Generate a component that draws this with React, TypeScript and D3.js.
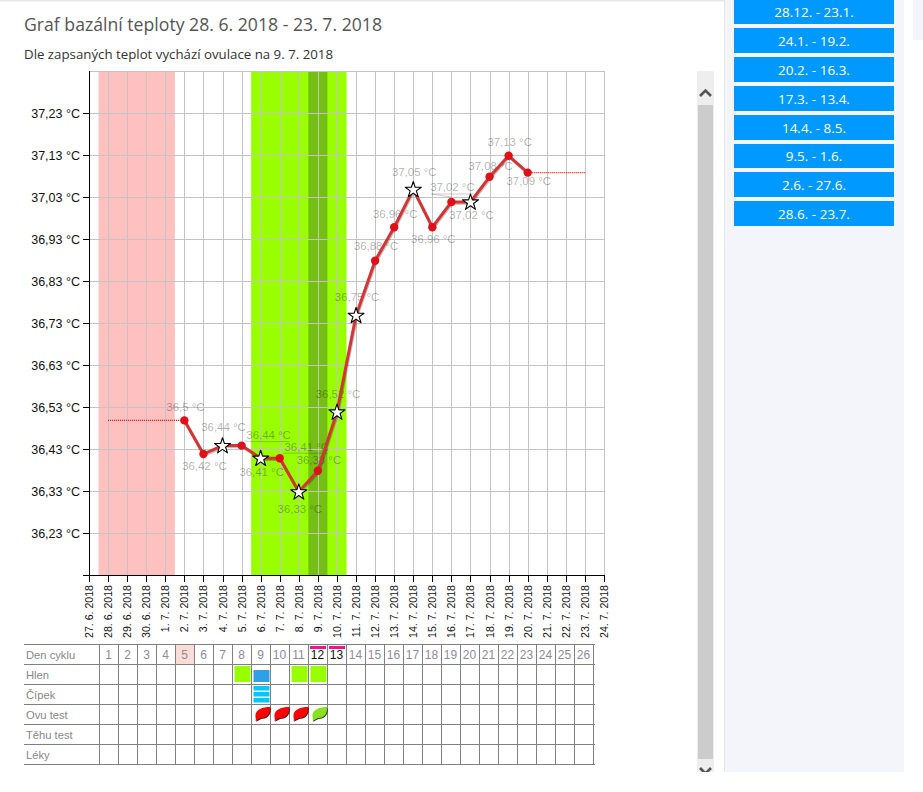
import React from "react";
import * as d3 from "d3";

const dateLabels = ["27. 6. 2018","28. 6. 2018","29. 6. 2018","30. 6. 2018","1. 7. 2018","2. 7. 2018","3. 7. 2018","4. 7. 2018","5. 7. 2018","6. 7. 2018","7. 7. 2018","8. 7. 2018","9. 7. 2018","10. 7. 2018","11. 7. 2018","12. 7. 2018","13. 7. 2018","14. 7. 2018","15. 7. 2018","16. 7. 2018","17. 7. 2018","18. 7. 2018","19. 7. 2018","20. 7. 2018","21. 7. 2018","22. 7. 2018","23. 7. 2018","24. 7. 2018"];
const yTicks = [37.23,37.13,37.03,36.93,36.83,36.73,36.63,36.53,36.43,36.33,36.23];
const measuredDays = [5,6,7,8,9,10,11,12,13,14,15,16,17,18,19,20,21,22,23];
const temps = [36.5,36.42,36.44,36.44,36.41,36.41,36.33,36.38,36.52,36.75,36.88,36.96,37.05,36.96,37.02,37.02,37.08,37.13,37.09];
const tempLabels = ["36,5","36,42","36,44","36,44","36,41","36,41","36,33","36,38","36,52","36,75","36,88","36,96","37,05","36,96","37,02","37,02","37,08","37,13","37,09"];
const starred = [false,false,true,false,true,false,true,false,true,true,false,false,true,false,false,true,false,false,false];
const dottedBefore = [1,5];
const dottedAfter = [23,26];
const periodBand = [1,4];
const fertileBand = [9,13];
const ovulationBand = [12,12];
const rowNames = ["Den cyklu","Hlen","Čípek","Ovu test","Těhu test","Léky"];
const cycleDays = d3.range(1, 27);
const hlenGreen = [8,11,12];
const hlenBlue = [9];
const cipekDays = [9];
const ovuRed = [9,10,11];
const ovuGreen = [12];
const markedDays = [12,13];
const menstrualEndDay = 5;
const periodButtons = ["28.12. - 23.1.","24.1. - 19.2.","20.2. - 16.3.","17.3. - 13.4.","14.4. - 8.5.","9.5. - 1.6.","2.6. - 27.6.","28.6. - 23.7."];

const labelOffsets: [number, number][] = [[1,-13],[1,13],[1,-18],[27,-10],[1,14],[27,-11],[1,18],[1,-10],[1,-17],[1,-18],[1,-14],[1,-13],[1,-17],[1,12],[1,-14],[1,14],[1,-10],[1,-13],[1,9]];
const buttonRows: [number, number][] = [[0,24],[28,53],[57,82],[86,111],[115,140],[144,168],[172,197],[201,226]];

const x = d3.scaleLinear().domain([0, 27]).range([89, 604]);
const y = d3.scaleLinear().domain([36.23, 37.23]).range([533, 113]);
const px = (v: number) => Math.round(v) + 0.5;

const LATIN = "'Liberation Sans', Arial, sans-serif";
const OPEN = "'Open Sans', sans-serif";
const GRID = "#c4c4c4";

const pts: [number, number][] = measuredDays.map((d, i) => [x(d), y(temps[i])]);
const line = d3.line<[number, number]>();
const star = d3.symbol().type(d3.symbolStar).size(80)()!;

const tableLeft = 24, col0 = 99, colW = 19, rowTop = 644, rowH = 20;
const colX = (d: number) => col0 + (d - 1) * colW;
const rowY = (r: number) => rowTop + r * rowH;
const leaf = "M3.5,17C4.5,15 3,13 3.5,10.5C4.5,5.5 10,3 18.5,3C18.5,8.5 16,14 10,14C8,14 6,16 3.5,17Z";

export default function App() {
  return (
    <svg width={923} height={792} style={{ position: "absolute", left: 0, top: 0, background: "#fff" }}>
      {/* page furniture */}
      <rect x={0} y={0} width={724} height={1.5} fill="#e8e8e8" />
      <rect x={724} y={0} width={180} height={772} fill="#f4f5fa" />
      <rect x={724} y={0} width={1} height={772} fill="#e6e6ea" />
      <rect x={913} y={0} width={10} height={40} fill="#f4f5fa" />
      {periodButtons.map((b, i) => (
        <g key={b}>
          <rect x={734} y={buttonRows[i][0]} width={160} height={buttonRows[i][1] - buttonRows[i][0]} fill="#0099ff" />
          <text x={814} y={(buttonRows[i][0] + buttonRows[i][1]) / 2 + 5} textAnchor="middle" fontFamily={OPEN} fontSize={13.5} fill="#fff">{b}</text>
        </g>
      ))}

      <text x={24} y={31} fontFamily={OPEN} fontSize={18.5} fill="#555" textLength={358} lengthAdjust="spacingAndGlyphs">Graf bazální teploty 28. 6. 2018 - 23. 7. 2018</text>
      <text x={24} y={59} fontFamily={OPEN} fontSize={13} fill="#333" textLength={309} lengthAdjust="spacingAndGlyphs">Dle zapsaných teplot vychází ovulace na 9. 7. 2018</text>

      {/* bands */}
      <rect x={x(periodBand[0] - 0.5)} y={71} width={x(periodBand[1] + 0.5) - x(periodBand[0] - 0.5)} height={504} fill="#ffc0c0" />
      <rect x={x(fertileBand[0] - 0.5)} y={71} width={x(fertileBand[1] + 0.5) - x(fertileBand[0] - 0.5)} height={504} fill="#99ff00" />
      <rect x={x(ovulationBand[0] - 0.5)} y={71} width={x(ovulationBand[1] + 0.5) - x(ovulationBand[0] - 0.5)} height={504} fill="#75bf14" />

      {/* grid */}
      {dateLabels.map((_, i) => i > 0 && (
        <line key={i} x1={px(x(i))} x2={px(x(i))} y1={71} y2={575} stroke={GRID} />
      ))}
      {yTicks.map(t => (
        <line key={t} x1={89} x2={604} y1={px(y(t))} y2={px(y(t))} stroke={GRID} />
      ))}
      <line x1={89} x2={604} y1={71.5} y2={71.5} stroke={GRID} />

      {/* axes */}
      <line x1={89.5} x2={89.5} y1={71} y2={576} stroke="#000" />
      <line x1={83} x2={604} y1={575.5} y2={575.5} stroke="#000" />
      {yTicks.map(t => (
        <g key={t}>
          <line x1={83} x2={89} y1={px(y(t))} y2={px(y(t))} stroke="#000" />
          <text x={80} y={y(t) + 4.5} textAnchor="end" fontFamily={LATIN} fontSize={12.5} fill="#111">{String(t).replace(".", ",")} °C</text>
        </g>
      ))}
      {dateLabels.map((d, i) => (
        <g key={d}>
          <line x1={px(x(i))} x2={px(x(i))} y1={575} y2={582} stroke="#000" />
          <text transform={`translate(${x(i) + 4},585) rotate(-90)`} textAnchor="end" fontFamily={LATIN} fontSize={10.6} fill="#111">{d}</text>
        </g>
      ))}

      <g transform="translate(0,0.8)">
        {/* dotted extensions */}
        <path d={line([[x(dottedBefore[0]), y(temps[0])], [x(dottedBefore[1]), y(temps[0])]])!} fill="none" stroke="#f00" strokeWidth={1.4} strokeDasharray="1 1" />
        <path d={line([[x(dottedAfter[0]), y(temps[temps.length - 1])], [x(dottedAfter[1]), y(temps[temps.length - 1])]])!} fill="none" stroke="#f00" strokeWidth={1.4} strokeDasharray="1 1" />

        {/* labels under the line */}
        {tempLabels.map((l, i) => (
          <text key={i} x={pts[i][0] + labelOffsets[i][0]} y={pts[i][1] + labelOffsets[i][1] + 3.5} textAnchor="middle" fontFamily={LATIN} fontSize={11.4} fill="#000" fillOpacity={0.32}>{l} °C</text>
        ))}
        {/* label connectors */}
        {[3, 5, 14].map(i => {
          const lx = pts[i][0] + labelOffsets[i][0], ly = pts[i][1] + labelOffsets[i][1] + 6;
          const dx = i === 14 ? 0 : 3;
          return (
            <path key={i} d={line([[pts[i][0] + dx, pts[i][1] - 5], [lx - 21, ly], [lx + 21, ly]])!} fill="none" stroke="#000" strokeOpacity={0.2} />
          );
        })}

        {/* series */}
        <path d={line(pts)!} fill="none" stroke="#000" strokeOpacity={0.25} strokeWidth={3} transform="translate(0.8,1.2)" strokeLinejoin="round" />
        <path d={line(pts)!} fill="none" stroke="#d43434" strokeWidth={3} strokeLinejoin="round" />
        {pts.map((p, i) => !starred[i] && <circle key={i} cx={p[0]} cy={p[1]} r={4.2} fill="#e01018" />)}
        {pts.map((p, i) => starred[i] && (
          <path key={i} d={star} transform={`translate(${p[0]},${p[1] + 0.5})`} fill="#fff" stroke="#000" strokeWidth={1.1} strokeLinejoin="round" />
        ))}
      </g>

      {/* table */}
      <rect x={colX(menstrualEndDay)} y={rowY(0)} width={colW} height={rowH} fill="#fcdcd6" />
      {d3.range(0, 7).map(r => (
        <line key={r} x1={tableLeft} x2={595} y1={rowY(r) + 0.5} y2={rowY(r) + 0.5} stroke="#808080" />
      ))}
      {d3.range(0, 27).map(c => (
        <line key={c} x1={col0 + c * colW + 0.5} x2={col0 + c * colW + 0.5} y1={rowTop} y2={rowY(6)} stroke="#808080" />
      ))}
      {rowNames.map((n, r) => (
        <text key={n} x={26} y={rowY(r) + 15} fontFamily={LATIN} fontSize={11.2} fill="#888">{n}</text>
      ))}
      {cycleDays.map(d => (
        <text key={d} x={colX(d) + 9.5} y={rowY(0) + 14.5} textAnchor="middle" fontFamily={LATIN} fontSize={12}
          fill={markedDays.includes(d) ? "#111" : "#8f8a9a"}>{d}</text>
      ))}
      {markedDays.map(d => <rect key={d} x={colX(d) + 2} y={646} width={16} height={3} fill="#f0148c" />)}
      {hlenGreen.map(d => <rect key={d} x={colX(d) + 2.5} y={666} width={16} height={16} fill="#99ff00" />)}
      {hlenBlue.map(d => <rect key={d} x={colX(d) + 2.5} y={670} width={16} height={12} fill="#2fa0e6" />)}
      {cipekDays.map(d => [686, 692, 698].map(t => (
        <rect key={t} x={colX(d) + 2.5} y={t} width={16} height={4.5} fill="#00c8ff" />
      )))}
      {ovuRed.map(d => (
        <g key={d} transform={`translate(${colX(d) + 1},${rowY(3)})`}>
          <path d={leaf} fill="#222" transform="translate(0.6,0.8)" />
          <path d={leaf} fill="#ff0000" />
        </g>
      ))}
      {ovuGreen.map(d => (
        <g key={d} transform={`translate(${colX(d) + 1},${rowY(3)})`}>
          <path d={leaf} fill="#222" transform="translate(0.6,0.8)" />
          <path d={leaf} fill="#88e020" />
        </g>
      ))}

      {/* scrollbar */}
      <rect x={697} y={71} width={17} height={701} fill="#eeeeee" />
      <rect x={698} y={105} width={15} height={654} fill="#cccccc" />
      <path d="M700,96L705.5,90.5L711,96" fill="none" stroke="#555" strokeWidth={2.6} />
      <path d="M700,768L705.5,773.5L711,768" fill="none" stroke="#555" strokeWidth={2.6} />
      <rect x={690} y={772} width={30} height={20} fill="#fff" />
    </svg>
  );
}
